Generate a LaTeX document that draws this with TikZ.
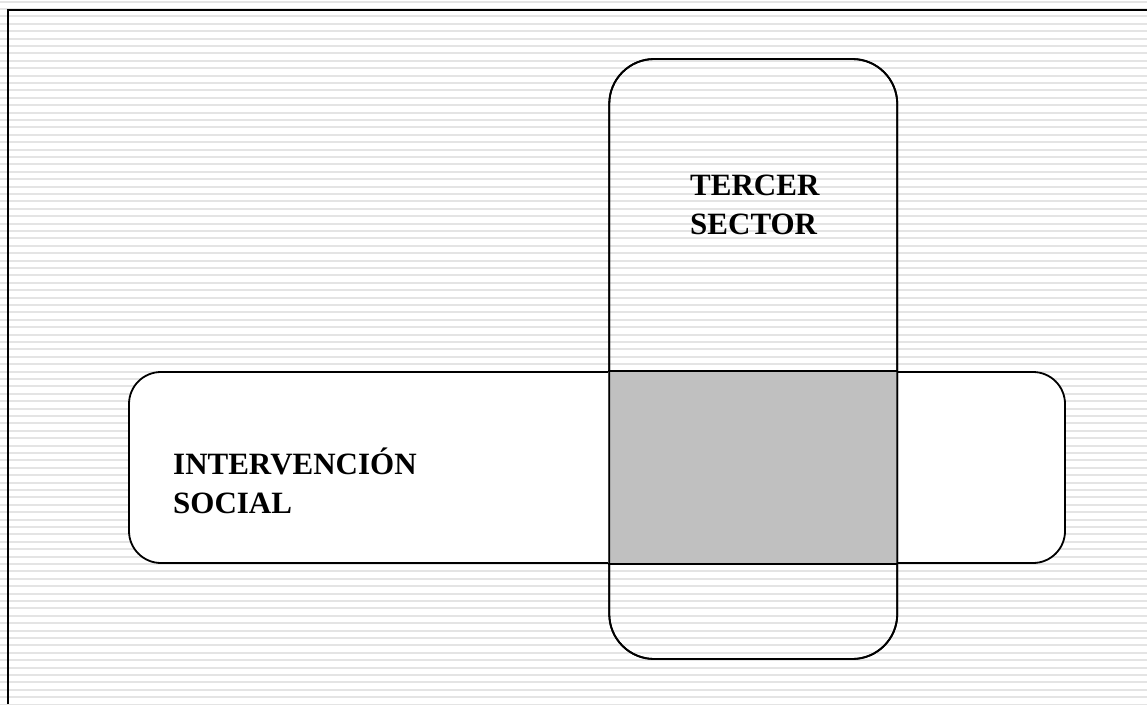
\documentclass[tikz,border=0pt]{standalone}
\usepackage{fontspec}
\setmainfont{Liberation Serif}
\definecolor{stripegray}{RGB}{228,228,228}
\definecolor{overlapgray}{RGB}{192,192,192}
\tikzset{
  box/.style={draw=black, line width=1.8pt, rounded corners=#1, inner sep=0pt},
  boxlabel/.style={font={\fontsize{31}{39}\selectfont\bfseries}, align=left, inner sep=0pt, anchor=base west}
}
\begin{document}
\begin{tikzpicture}[x=1pt,y=-1pt]
\useasboundingbox (0,0) rectangle (1147,704);
\fill[white] (0,0) rectangle (1147,704);
\foreach \i in {0,...,95} \fill[stripegray] (0,{0.5+7.4*\i}) rectangle (1147,{2.6+7.4*\i});
\draw[line width=2.2pt] (8,704) -- (8,10) -- (1147,10);
% horizontal box (white filled)
\node[box=32pt, fill=white, minimum width=936pt, minimum height=191pt] (hbox) at (597,467.5) {};
% vertical box outline
\node[box=45pt, minimum width=288pt, minimum height=600pt] (vbox) at (753.25,359) {};
% intersection
\fill[overlapgray] (vbox.west |- hbox.north) rectangle (vbox.east |- hbox.south);
\draw[line width=1.8pt] (vbox.west |- hbox.north) -- (vbox.east |- hbox.north);
\draw[line width=1.8pt] (vbox.west |- hbox.south) -- (vbox.east |- hbox.south);
\node[box=45pt, minimum width=288pt, minimum height=600pt] at (vbox.center) {};
\node[boxlabel] (t1) at (690,234) {TERCER\\SECTOR};
\node[boxlabel] (t2) at (173,513) {INTERVENCIÓN\\SOCIAL};
\end{tikzpicture}
\end{document}
